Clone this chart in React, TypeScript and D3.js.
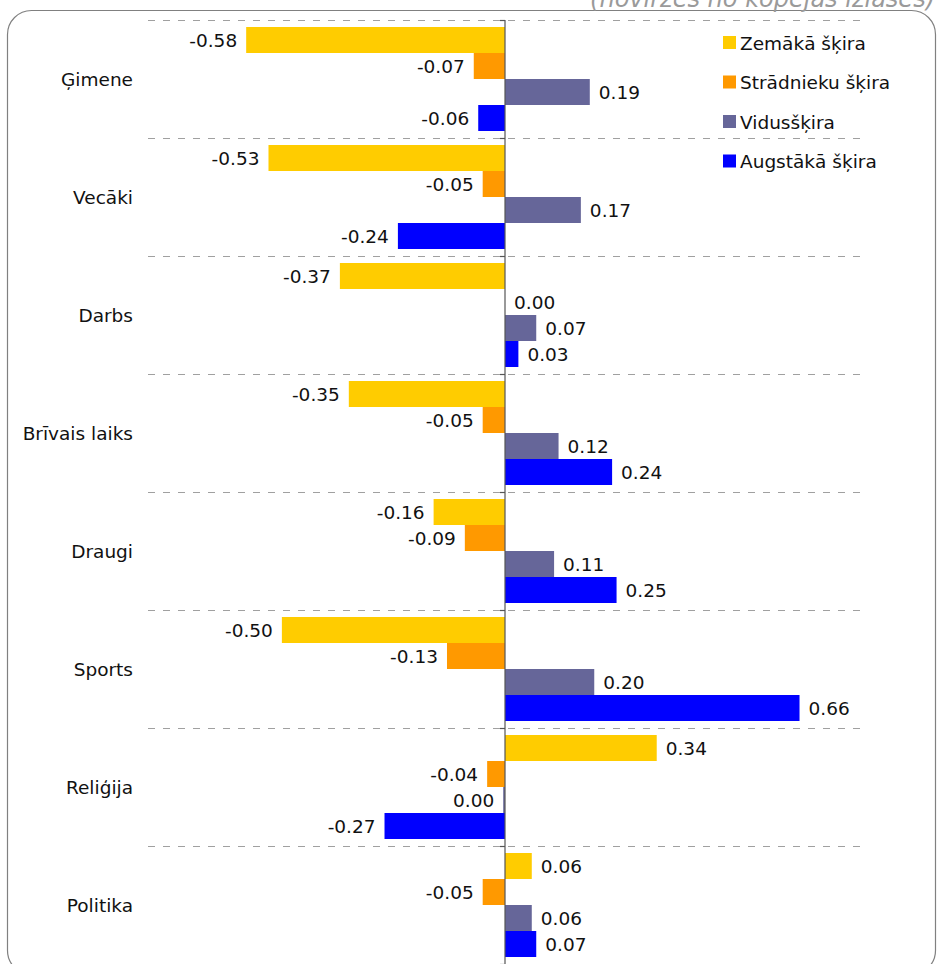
import React from "react";
import * as d3 from "d3";

const categories = ["Ģimene", "Vecāki", "Darbs", "Brīvais laiks", "Draugi", "Sports", "Reliģija", "Politika"];
const seriesNames = ["Zemākā šķira", "Strādnieku šķira", "Vidusšķira", "Augstākā šķira"];
const seriesColors = ["#FFCC00", "#FF9900", "#666699", "#0000FF"];
const zemaka = [-0.58, -0.53, -0.37, -0.35, -0.16, -0.50, 0.34, 0.06];
const stradnieku = [-0.07, -0.05, 0.0, -0.05, -0.09, -0.13, -0.04, -0.05];
const vidus = [0.19, 0.17, 0.07, 0.12, 0.11, 0.20, -0.004, 0.06];
const augstaka = [-0.06, -0.24, 0.03, 0.24, 0.25, 0.66, -0.27, 0.07];
const xDomain = [-0.8, 0.8];
const titleText = "(novirzes no kopējās izlases)";

const W = 939;
const H = 964;
const FONT = "DejaVu Sans, Verdana, sans-serif";
const FS = 18.5;

export default function App() {
  const seriesValues = [zemaka, stradnieku, vidus, augstaka];
  const x = d3.scaleLinear().domain(xDomain).range([148, 862]);
  const y = d3.scaleBand<string>().domain(categories).range([20, 964]).paddingInner(0).paddingOuter(0);
  const inner = d3
    .scaleBand<string>()
    .domain(seriesNames)
    .range([7, y.bandwidth() - 7])
    .padding(0);
  const fmt = (v: number) => (Math.abs(v) < 0.005 ? "0.00" : v.toFixed(2));
  const x0 = x(0);
  const gridYs = categories.map((c) => y(c)!).concat([y.range()[1]]);

  return (
    <svg width={W} height={H} style={{ position: "absolute", left: 0, top: 0, background: "#fff" }}>
      <rect x={7.5} y={10.5} width={928} height={964} rx={24} ry={24} fill="none" stroke="#808080" strokeWidth={1.2} />
      <text x={935} y={7} textAnchor="end" fontFamily={FONT} fontStyle="italic" fontSize={24} fill="#9a9a9a">
        {titleText}
      </text>
      {gridYs.map((gy, i) => (
        <line key={"g" + i} x1={148} x2={862} y1={gy + 0.5} y2={gy + 0.5} stroke="#a0a0a0" strokeWidth={1} strokeDasharray="7,8" />
      ))}
      {categories.map((c, ci) => (
        <g key={c}>
          <text x={133} y={y(c)! + y.bandwidth() / 2} textAnchor="end" dominantBaseline="central" fontFamily={FONT} fontSize={FS} fill="#111">
            {c}
          </text>
          {seriesNames.map((s, si) => {
            const v = seriesValues[si][ci];
            const by = y(c)! + inner(s)!;
            const bx = Math.min(x(v), x0);
            const bw = Math.abs(x(v) - x0);
            const neg = v < 0;
            return (
              <g key={s}>
                <rect x={bx} y={by} width={bw} height={inner.bandwidth()} fill={seriesColors[si]} />
                <text
                  x={neg ? x(v) - 9 : x(v) + 9}
                  y={by + inner.bandwidth() / 2}
                  textAnchor={neg ? "end" : "start"}
                  dominantBaseline="central"
                  fontFamily={FONT}
                  fontSize={FS}
                  fill="#111"
                >
                  {fmt(v)}
                </text>
              </g>
            );
          })}
        </g>
      ))}
      <line x1={x0} x2={x0} y1={20} y2={964} stroke="#555" strokeWidth={1.2} />
      {gridYs.map((gy, i) => (
        <line key={"t" + i} x1={x0 - 5} x2={x0} y1={gy + 0.5} y2={gy + 0.5} stroke="#555" strokeWidth={1.2} />
      ))}
      {seriesNames.map((s, si) => (
        <g key={"l" + s} transform={`translate(723, ${36 + si * 39.5})`}>
          <rect x={0} y={0} width={13} height={13} fill={seriesColors[si]} />
          <text x={17} y={7} dominantBaseline="central" fontFamily={FONT} fontSize={FS} fill="#111">
            {s}
          </text>
        </g>
      ))}
    </svg>
  );
}
